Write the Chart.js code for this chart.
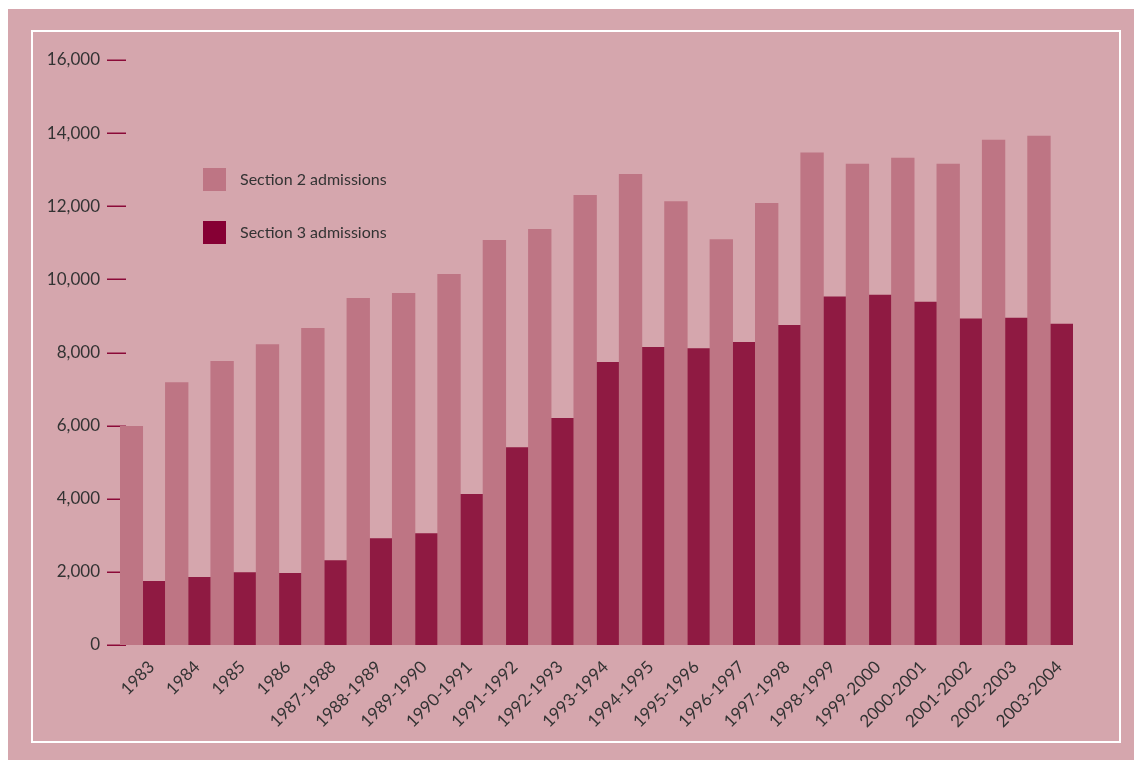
<!DOCTYPE html>
<html>
<head>
<meta charset="utf-8">
<script src="https://cdn.jsdelivr.net/npm/chart.js@4.4.1/dist/chart.umd.min.js"></script>
<style>
  html, body { margin: 0; padding: 0; background: #fff; }
  #frame { position: absolute; left: 8px; top: 9px; width: 1126px; height: 751px; background: #d5a6ad; }
  #border { position: absolute; left: 31px; top: 30px; width: 1086px; height: 709px; border: 2px solid #fff; }
  #wrap { position: absolute; left: 0; top: 0; width: 1134px; height: 760px; }
</style>
</head>
<body>
<div id="frame"></div>
<div id="border"></div>
<div id="wrap"><canvas id="admissionsChart" width="1134" height="760"></canvas></div>
<script>
// --- DATA ---
const periods = ['1983', '1984', '1985', '1986', '1987-1988', '1988-1989', '1989-1990', '1990-1991',
    '1991-1992', '1992-1993', '1993-1994', '1994-1995', '1995-1996', '1996-1997', '1997-1998',
    '1998-1999', '1999-2000', '2000-2001', '2001-2002', '2002-2003', '2003-2004'];
const section2 = [5980, 7180, 7760, 8220, 8660, 9480, 9620, 10140, 11070, 11370, 12300,
    12870, 12130, 11090, 12080, 13460, 13150, 13320, 13150, 13810, 13920];
const section3 = [1740, 1850, 1980, 1960, 2310, 2910, 3050, 4120, 5400, 6200, 7730,
    8140, 8110, 8280, 8740, 9520, 9570, 9380, 8920, 8940, 8780];
const yTicks = [0, 2000, 4000, 6000, 8000, 10000, 12000, 14000, 16000];

const FONT = 'Lato, "Open Sans", sans-serif';
const TEXT = '#333333';
const TICK_RED = '#8b0a38';

// small red tick marks on the y axis, poking a little into the plot
const yTickMarks = {
    id: 'yTickMarks',
    beforeDatasetsDraw(chart) {
        const ctx = chart.ctx, y = chart.scales.y, left = chart.chartArea.left;
        ctx.save();
        ctx.strokeStyle = TICK_RED;
        ctx.lineWidth = 1.5;
        y.ticks.forEach(t => {
            const py = Math.round(y.getPixelForValue(t.value)) + 0.25;
            ctx.beginPath();
            ctx.moveTo(left - 13, py);
            ctx.lineTo(left + 6, py);
            ctx.stroke();
        });
        ctx.restore();
    }
};

// legend drawn inside the plot, stacked vertically
const legendColors = ['#be7584', '#860034'];
const insideLegend = {
    id: 'insideLegend',
    afterDraw(chart) {
        const ctx = chart.ctx;
        ctx.save();
        ctx.font = '16px ' + FONT;
        ctx.textBaseline = 'middle';
        chart.data.datasets.forEach((ds, i) => {
            const top = 168 + i * 53;
            ctx.fillStyle = legendColors[i];
            ctx.fillRect(203, top, 23, 23);
            ctx.fillStyle = TEXT;
            ctx.fillText(ds.label, 240, top + 11.5);
        });
        ctx.restore();
    }
};

const ctx = document.getElementById('admissionsChart').getContext('2d');
new Chart(ctx, {
    type: 'bar',
    data: {
        labels: periods,
        datasets: [
            { label: 'Section 2 admissions', data: section2, backgroundColor: '#be7584', barPercentage: 1, categoryPercentage: 1 },
            { label: 'Section 3 admissions', data: section3, backgroundColor: '#8f1a42', barPercentage: 1, categoryPercentage: 1 }
        ]
    },
    options: {
        responsive: false,
        animation: false,
        layout: { padding: { left: 0, right: 61, top: 60, bottom: 0 } },
        plugins: {
            legend: { display: false },
            tooltip: { enabled: false }
        },
        scales: {
            x: {
                grid: { display: false, drawTicks: false },
                border: { display: false },
                ticks: {
                    autoSkip: false,
                    maxRotation: 45,
                    minRotation: 45,
                    padding: 12,
                    labelOffset: 9,
                    color: TEXT,
                    font: { family: FONT, size: 17 }
                },
                afterFit: (scale) => { scale.height = 115; }
            },
            y: {
                min: 0,
                max: 16000,
                grid: { display: false, drawTicks: false },
                border: { display: false },
                afterBuildTicks: (scale) => { scale.ticks = yTicks.map(v => ({ value: v })); },
                ticks: {
                    padding: 20,
                    color: TEXT,
                    font: { family: FONT, size: 17 },
                    callback: (v) => v.toLocaleString('en-US')
                },
                afterFit: (scale) => { scale.width = 120; }
            }
        }
    },
    plugins: [yTickMarks, insideLegend]
});
</script>
</body>
</html>
